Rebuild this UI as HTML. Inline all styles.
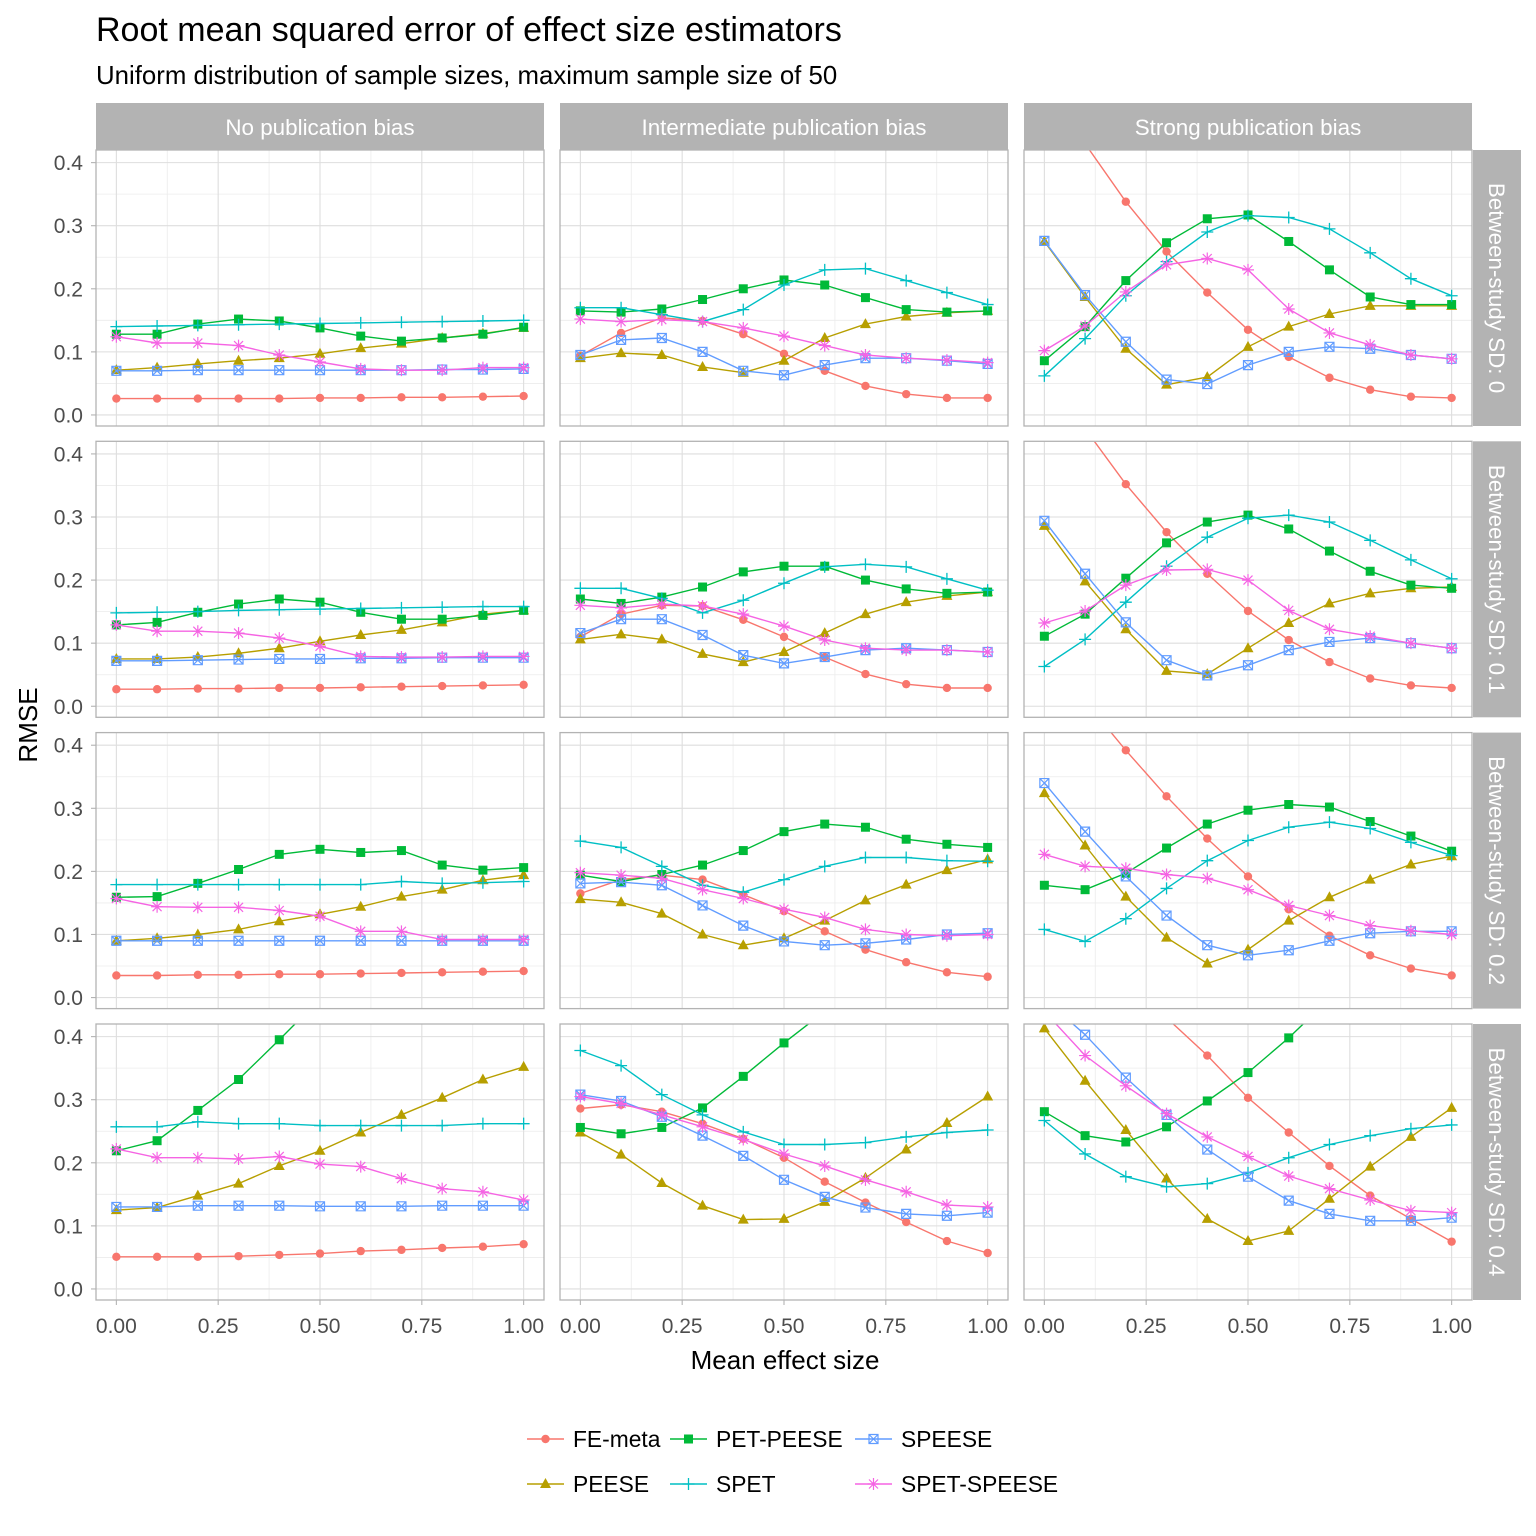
<!DOCTYPE html>
<html><head><meta charset="utf-8"><style>
html,body{margin:0;padding:0;background:#fff}
svg{display:block;font-family:"Liberation Sans",Arial,sans-serif}
</style></head><body>
<svg id="chart" width="1536" height="1536" viewBox="0 0 1536 1536" xmlns="http://www.w3.org/2000/svg">
<rect width="1536" height="1536" fill="#fff"/>
<text x="96" y="41" font-size="34" fill="#000">Root mean squared error of effect size estimators</text>
<text x="96" y="84" font-size="25.8" fill="#000">Uniform distribution of sample sizes, maximum sample size of 50</text>
<text transform="translate(37,725) rotate(-90)" text-anchor="middle" font-size="26" fill="#000">RMSE</text>
<text x="785" y="1369" text-anchor="middle" font-size="26" fill="#000">Mean effect size</text>
<g id="panels"></g>
<g id="legend"></g>
</svg>
<script>
const xs=[0,0.1,0.2,0.3,0.4,0.5,0.6,0.7,0.8,0.9,1.0];
const colLabels=["No publication bias","Intermediate publication bias","Strong publication bias"];
const rowLabels=["Between-study SD: 0","Between-study SD: 0.1","Between-study SD: 0.2","Between-study SD: 0.4"];
const seriesNames=["FE-meta","PEESE","PET-PEESE","SPET","SPEESE","SPET-SPEESE"];
const yTicks=[0,0.1,0.2,0.3,0.4];
const yTickLabels=["0.0","0.1","0.2","0.3","0.4"];
const xTicks=[0,0.25,0.5,0.75,1];
const xTickLabels=["0.00","0.25","0.50","0.75","1.00"];
const fe=[
[[0.026,0.026,0.026,0.026,0.026,0.027,0.027,0.028,0.028,0.029,0.03],[0.094,0.13,0.154,0.149,0.128,0.097,0.07,0.046,0.033,0.027,0.027],[0.52,0.43,0.338,0.259,0.194,0.135,0.092,0.059,0.04,0.029,0.027]],
[[0.027,0.027,0.028,0.028,0.029,0.029,0.03,0.031,0.032,0.033,0.034],[0.11,0.146,0.16,0.159,0.137,0.11,0.078,0.051,0.035,0.029,0.029],[0.53,0.44,0.352,0.276,0.21,0.151,0.105,0.07,0.044,0.033,0.029]],
[[0.035,0.035,0.036,0.036,0.037,0.037,0.038,0.039,0.04,0.041,0.042],[0.165,0.187,0.194,0.187,0.163,0.137,0.105,0.076,0.056,0.04,0.033],[0.56,0.47,0.392,0.319,0.252,0.192,0.14,0.098,0.067,0.046,0.035]],
[[0.051,0.051,0.051,0.052,0.054,0.056,0.06,0.062,0.065,0.067,0.071],[0.286,0.292,0.281,0.262,0.238,0.208,0.17,0.137,0.106,0.076,0.057],[0.64,0.57,0.5,0.43,0.37,0.303,0.248,0.195,0.148,0.111,0.075]]];
const peese=[
[[0.071,0.075,0.081,0.086,0.09,0.097,0.106,0.113,0.122,0.129,0.138],[0.09,0.098,0.095,0.076,0.067,0.086,0.122,0.144,0.156,0.162,0.165],[0.275,0.187,0.105,0.048,0.06,0.108,0.14,0.16,0.173,0.173,0.173]],
[[0.075,0.075,0.078,0.084,0.092,0.103,0.113,0.121,0.133,0.146,0.152],[0.106,0.114,0.106,0.083,0.07,0.086,0.116,0.146,0.165,0.175,0.181],[0.286,0.198,0.122,0.056,0.051,0.092,0.132,0.163,0.179,0.187,0.189]],
[[0.09,0.094,0.1,0.108,0.121,0.132,0.144,0.16,0.171,0.186,0.194],[0.156,0.151,0.133,0.1,0.083,0.094,0.122,0.154,0.179,0.202,0.219],[0.324,0.241,0.16,0.095,0.054,0.076,0.122,0.159,0.187,0.211,0.224]],
[[0.125,0.129,0.148,0.167,0.195,0.219,0.248,0.276,0.303,0.332,0.352],[0.248,0.213,0.168,0.132,0.11,0.111,0.138,0.176,0.221,0.263,0.305],[0.413,0.33,0.252,0.175,0.111,0.076,0.092,0.143,0.194,0.241,0.287]]];
const petpeese=[
[[0.128,0.128,0.144,0.152,0.149,0.138,0.125,0.117,0.122,0.128,0.139],[0.165,0.163,0.168,0.183,0.2,0.214,0.206,0.186,0.167,0.163,0.165],[0.086,0.14,0.213,0.273,0.311,0.317,0.275,0.23,0.187,0.175,0.175]],
[[0.129,0.133,0.149,0.162,0.17,0.165,0.149,0.138,0.138,0.144,0.152],[0.17,0.163,0.173,0.189,0.213,0.222,0.222,0.2,0.186,0.179,0.181],[0.111,0.146,0.203,0.259,0.292,0.303,0.281,0.246,0.214,0.192,0.187]],
[[0.159,0.16,0.181,0.203,0.227,0.235,0.23,0.233,0.21,0.202,0.206],[0.194,0.184,0.195,0.21,0.233,0.263,0.275,0.27,0.251,0.243,0.238],[0.178,0.171,0.197,0.237,0.275,0.297,0.306,0.302,0.279,0.256,0.232]],
[[0.219,0.235,0.283,0.332,0.395,0.46,0.52,0.58,0.63,0.68,0.72],[0.256,0.246,0.256,0.287,0.337,0.39,0.44,0.49,0.54,0.58,0.62],[0.281,0.243,0.233,0.257,0.298,0.343,0.398,0.46,0.52,0.58,0.64]]];
const spet=[
[[0.14,0.141,0.142,0.143,0.144,0.145,0.146,0.147,0.148,0.149,0.15],[0.17,0.17,0.159,0.148,0.167,0.206,0.23,0.232,0.213,0.194,0.175],[0.062,0.121,0.189,0.243,0.29,0.316,0.313,0.295,0.257,0.216,0.189]],
[[0.148,0.149,0.15,0.152,0.153,0.154,0.155,0.156,0.157,0.158,0.158],[0.187,0.187,0.171,0.148,0.168,0.195,0.221,0.225,0.221,0.202,0.184],[0.063,0.106,0.165,0.222,0.268,0.298,0.303,0.292,0.263,0.232,0.202]],
[[0.179,0.179,0.179,0.179,0.179,0.179,0.179,0.184,0.181,0.182,0.184],[0.248,0.238,0.208,0.178,0.167,0.187,0.208,0.222,0.222,0.217,0.216],[0.108,0.089,0.125,0.173,0.217,0.249,0.27,0.278,0.268,0.246,0.225]],
[[0.257,0.257,0.265,0.262,0.262,0.259,0.259,0.259,0.259,0.262,0.262],[0.378,0.354,0.308,0.276,0.249,0.229,0.229,0.232,0.241,0.248,0.252],[0.267,0.214,0.178,0.162,0.167,0.184,0.208,0.229,0.243,0.254,0.26]]];
const speese=[
[[0.07,0.07,0.071,0.071,0.071,0.071,0.071,0.071,0.072,0.072,0.073],[0.095,0.119,0.122,0.1,0.07,0.063,0.079,0.09,0.09,0.086,0.081],[0.276,0.19,0.116,0.056,0.049,0.079,0.1,0.108,0.105,0.095,0.089]],
[[0.072,0.072,0.073,0.074,0.075,0.075,0.076,0.076,0.077,0.077,0.077],[0.116,0.138,0.138,0.113,0.081,0.068,0.078,0.089,0.092,0.089,0.086],[0.294,0.21,0.133,0.073,0.049,0.065,0.089,0.102,0.108,0.1,0.092]],
[[0.09,0.09,0.09,0.09,0.09,0.09,0.09,0.09,0.09,0.09,0.09],[0.181,0.183,0.178,0.146,0.114,0.089,0.083,0.086,0.092,0.1,0.102],[0.34,0.263,0.192,0.13,0.083,0.067,0.075,0.09,0.102,0.105,0.105]],
[[0.13,0.13,0.132,0.132,0.132,0.131,0.131,0.131,0.132,0.132,0.132],[0.308,0.298,0.273,0.243,0.211,0.173,0.146,0.129,0.119,0.116,0.121],[0.46,0.403,0.335,0.276,0.221,0.178,0.14,0.119,0.108,0.108,0.113]]];
const spetspeese=[
[[0.124,0.114,0.114,0.11,0.095,0.084,0.073,0.071,0.071,0.075,0.075],[0.152,0.148,0.151,0.148,0.138,0.125,0.11,0.095,0.09,0.087,0.083],[0.102,0.141,0.195,0.238,0.248,0.23,0.168,0.13,0.111,0.095,0.089]],
[[0.129,0.119,0.119,0.116,0.108,0.095,0.079,0.078,0.078,0.079,0.079],[0.16,0.156,0.162,0.159,0.146,0.127,0.105,0.092,0.089,0.089,0.086],[0.132,0.151,0.192,0.216,0.217,0.2,0.152,0.122,0.111,0.1,0.092]],
[[0.157,0.144,0.143,0.143,0.138,0.129,0.105,0.105,0.092,0.092,0.092],[0.198,0.194,0.189,0.171,0.157,0.14,0.127,0.108,0.1,0.098,0.1],[0.227,0.208,0.205,0.195,0.189,0.171,0.146,0.13,0.114,0.106,0.1]],
[[0.222,0.208,0.208,0.206,0.21,0.198,0.194,0.175,0.159,0.154,0.141],[0.305,0.294,0.276,0.257,0.237,0.214,0.195,0.173,0.154,0.133,0.13],[0.44,0.37,0.322,0.278,0.241,0.21,0.179,0.159,0.141,0.124,0.121]]];
const allSeries=[fe,peese,petpeese,spet,speese,spetspeese];
const colors=["#F8766D","#B79F00","#00BA38","#00BFC4","#619CFF","#F564E3"];
const shapes=["circle","triangle","square","plus","boxx","star"];

const NS="http://www.w3.org/2000/svg";
function mk(tag,attrs,parent){const e=document.createElementNS(NS,tag);for(const k in attrs)e.setAttribute(k,attrs[k]);if(parent)parent.appendChild(e);return e;}
const colX=[96,560,1024], PW=448, rowY=[150,441.3,732.6,1024], PH=276;
const XMIN=-0.05,XMAX=1.05,YMIN=-0.0175,YMAX=0.42;
function sx(c,v){return colX[c]+(v-XMIN)/(XMAX-XMIN)*PW;}
function sy(r,v){return rowY[r]+PH-(v-YMIN)/(YMAX-YMIN)*PH;}
function marker(g,shape,x,y,col){
  let e;
  if(shape==="circle"){e=mk('circle',{cx:x,cy:y,r:4.2,fill:col},g);}
  else if(shape==="triangle"){e=mk('polygon',{points:`${x},${y-6} ${x-5.5},${y+4} ${x+5.5},${y+4}`,fill:col},g);}
  else if(shape==="square"){e=mk('rect',{x:x-4.5,y:y-4.5,width:9,height:9,fill:col},g);}
  else if(shape==="plus"){e=mk('path',{d:`M${x-6},${y}H${x+6}M${x},${y-6}V${y+6}`,stroke:col,'stroke-width':1.3,fill:'none'},g);}
  else if(shape==="boxx"){e=mk('path',{d:`M${x-4.5},${y-4.5}h9v9h-9zM${x-4.5},${y-4.5}l9,9M${x+4.5},${y-4.5}l-9,9`,stroke:col,'stroke-width':1.2,fill:'none'},g);}
  else {e=mk('path',{d:`M${x-6},${y}H${x+6}M${x},${y-6}V${y+6}M${x-4.5},${y-4.5}l9,9M${x+4.5},${y-4.5}l-9,9`,stroke:col,'stroke-width':1.2,fill:'none'},g);}
  return e;
}
const panels=document.getElementById('panels');
const defs=mk('defs',{},panels);
for(let r=0;r<4;r++){for(let c=0;c<3;c++){
  const cp=mk('clipPath',{id:`cp${r}${c}`},defs);
  mk('rect',{x:colX[c],y:rowY[r],width:PW,height:PH},cp);
  const g=mk('g',{},panels);
  
  
  mk('rect',{x:colX[c],y:rowY[r],width:PW,height:PH,fill:'#fff'},g);
  for(let v=0.05;v<0.42;v+=0.1){mk('line',{x1:colX[c],x2:colX[c]+PW,y1:sy(r,v),y2:sy(r,v),stroke:'#ececec','stroke-width':0.8},g);}
  for(const v of [0.125,0.375,0.625,0.875]){mk('line',{y1:rowY[r],y2:rowY[r]+PH,x1:sx(c,v),x2:sx(c,v),stroke:'#ececec','stroke-width':0.8},g);}
  yTicks.forEach(v=>mk('line',{x1:colX[c],x2:colX[c]+PW,y1:sy(r,v),y2:sy(r,v),stroke:'#dedede','stroke-width':1.1},g));
  xTicks.forEach(v=>mk('line',{y1:rowY[r],y2:rowY[r]+PH,x1:sx(c,v),x2:sx(c,v),stroke:'#dedede','stroke-width':1.1},g));
  const dg=mk('g',{'clip-path':`url(#cp${r}${c})`},g);
  allSeries.forEach((s,si)=>{
    const vals=s[r][c];
    const sg=mk('g',{},dg);
    
    
    const pts=vals.map((v,i)=>`${sx(c,xs[i]).toFixed(1)},${sy(r,v).toFixed(1)}`).join(' ');
    mk('polyline',{points:pts,fill:'none',stroke:colors[si],'stroke-width':1.4},sg);
    vals.forEach((v,i)=>{const m=marker(sg,shapes[si],sx(c,xs[i]),sy(r,v),colors[si]);
      
      });
  });
  mk('rect',{x:colX[c],y:rowY[r],width:PW,height:PH,fill:'none',stroke:'#b3b3b3','stroke-width':1.3},g);
  if(c===0){yTicks.forEach((v,i)=>{mk('line',{x1:colX[c]-5,x2:colX[c],y1:sy(r,v),y2:sy(r,v),stroke:'#b3b3b3','stroke-width':1.1},g);
    const t=mk('text',{x:colX[c]-13,y:sy(r,v)+7.5,'text-anchor':'end','font-size':21,fill:'#4d4d4d'},g);t.textContent=yTickLabels[i];
    
    });}
  if(r===3){xTicks.forEach((v,i)=>{mk('line',{x1:sx(c,v),x2:sx(c,v),y1:rowY[r]+PH,y2:rowY[r]+PH+5,stroke:'#b3b3b3','stroke-width':1.1},g);
    const t=mk('text',{x:sx(c,v),y:rowY[r]+PH+33,'text-anchor':'middle','font-size':21,fill:'#4d4d4d'},g);t.textContent=xTickLabels[i];
    
    });}
}}
colLabels.forEach((l,c)=>{const g=mk('g',{},panels);
  
  
  mk('rect',{x:colX[c],y:103,width:PW,height:47,fill:'#b3b3b3'},g);
  const t=mk('text',{x:colX[c]+PW/2,y:135,'text-anchor':'middle','font-size':22.4,fill:'#fff'},g);t.textContent=l;});
rowLabels.forEach((l,r)=>{const g=mk('g',{},panels);
  
  
  mk('rect',{x:1473,y:rowY[r],width:48,height:PH,fill:'#b3b3b3'},g);
  const t=mk('text',{transform:`translate(1489,${rowY[r]+PH/2}) rotate(90)`,'text-anchor':'middle','font-size':22.4,fill:'#fff'},g);t.textContent=l;});
const lg=document.getElementById('legend');
const legPos=[[527,1439],[527,1484],[670,1439],[670,1484],[855,1439],[855,1484]];
seriesNames.forEach((n,i)=>{const g=mk('g',{},lg);
  
  
  const [x,y]=legPos[i];
  mk('line',{x1:x,x2:x+37,y1:y,y2:y,stroke:colors[i],'stroke-width':1.5},g);
  marker(g,shapes[i],x+18.5,y,colors[i]);
  const t=mk('text',{x:x+46,y:y+8,'font-size':22.8,fill:'#000'},g);t.textContent=n;});
</script>
</body></html>
